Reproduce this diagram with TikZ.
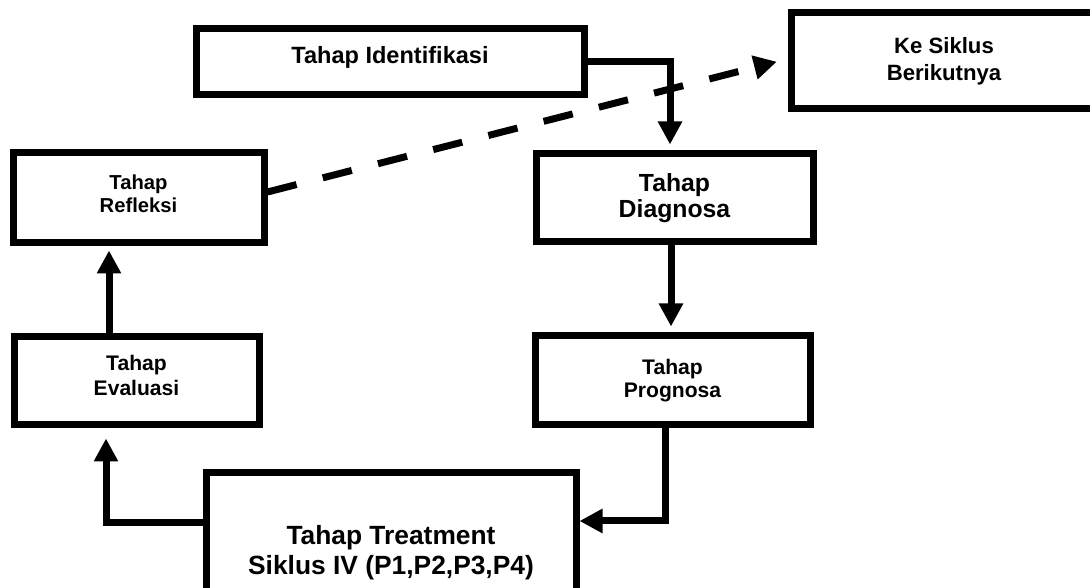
\documentclass[tikz,border=0pt]{standalone}
\usepackage{fontspec}
\setmainfont{Liberation Sans}
\usetikzlibrary{arrows.meta}

\tikzset{
  stage/.style={draw, line width=0.14cm, inner sep=0pt, align=center},
  flow/.style={line width=0.14cm, -{Triangle[length=0.46cm,width=0.46cm]}},
  nextflow/.style={flow, dash pattern=on 0.6cm off 0.54cm}
}

\begin{document}
\begin{tikzpicture}
\useasboundingbox (0,0) rectangle (21.8,11.76);

\node [stage, minimum width=7.76cm, minimum height=1.32cm, text depth=0.3cm, font=\fontsize{13.4}{15}\selectfont\bfseries] (ident) at (7.80,10.52) {Tahap Identifikasi};
\node [stage, minimum width=6.12cm, minimum height=1.92cm, font=\fontsize{12.6}{15.3}\selectfont\bfseries] (nextcycle) at (18.88,10.54) {Ke Siklus\\Berikutnya};
\node [stage, minimum width=5.02cm, minimum height=1.80cm, text depth=0.16cm, font=\fontsize{11.5}{13}\selectfont\bfseries] (reflect) at (2.77,7.80) {Tahap\\Refleksi};
\node [stage, minimum width=5.54cm, minimum height=1.76cm, font=\fontsize{14.1}{14.8}\selectfont\bfseries] (diag) at (13.49,7.80) {Tahap\\Diagnosa};
\node [stage, minimum width=5.50cm, minimum height=1.78cm, font=\fontsize{12}{13}\selectfont\bfseries] (prog) at (13.45,4.15) {Tahap\\Prognosa};
\node [stage, minimum width=4.90cm, minimum height=1.76cm, text depth=0.24cm, font=\fontsize{12}{14.2}\selectfont\bfseries] (eval) at (2.73,4.14) {Tahap\\Evaluasi};
\node [stage, minimum width=7.40cm, minimum height=3.20cm, font=\fontsize{15}{17}\selectfont\bfseries] (treat) at (7.82,0.70) {Tahap Treatment\\Siklus IV (P1,P2,P3,P4)};

\draw [flow, shorten >=0.12cm] (ident.east) -| ([xshift=-0.09cm]diag.north);
\draw [flow, shorten >=0.12cm] ([xshift=-0.07cm]diag.south) -- ([xshift=-0.07cm]diag.south |- prog.north);
\draw [flow] ([xshift=-0.15cm]prog.south) |- ([yshift=0.64cm]treat.east);
\draw [flow, shorten >=0.2cm] ([yshift=0.6cm]treat.west) -| ([xshift=-0.61cm]eval.south);
\draw [flow, shorten >=0.08cm] ([xshift=-0.55cm]eval.north) -- ([xshift=-0.55cm]eval.north |- reflect.south);

\draw [nextflow, shorten >=0.22cm] ([yshift=0.12cm]reflect.east) -- ([yshift=0.04cm]nextcycle.west);

\end{tikzpicture}
\end{document}
